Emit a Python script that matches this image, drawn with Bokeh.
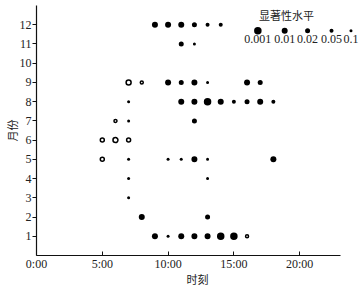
import math
from bokeh.plotting import figure
from bokeh.models import Range1d, FixedTicker, Label, ColumnDataSource
from bokeh.embed import file_html
from bokeh.resources import INLINE

# ---- data: (month, hour, significance level, open circle?) ----
months = [12, 12, 12, 12, 12, 12,
          11, 11,
          9, 9, 9, 9, 9, 9, 9, 9,
          8, 8, 8, 8, 8, 8, 8, 8, 8,
          7, 7, 7,
          6, 6, 6,
          5, 5, 5, 5, 5, 5, 5,
          4, 4,
          3,
          2, 2,
          1, 1, 1, 1, 1, 1, 1, 1]
hours = [9, 10, 11, 12, 13, 14,
         11, 12,
         7, 8, 10, 11, 12, 13, 16, 17,
         7, 11, 12, 13, 14, 15, 16, 17, 18,
         6, 7, 12,
         5, 6, 7,
         5, 7, 10, 11, 12, 13, 18,
         7, 13,
         7,
         8, 13,
         9, 10, 11, 12, 13, 14, 15, 16]
levels = [0.01, 0.01, 0.01, 0.02, 0.05, 0.05,
          0.02, 0.1,
          0.01, 0.05, 0.01, 0.02, 0.01, 0.1, 0.01, 0.02,
          0.1, 0.01, 0.01, 0.001, 0.01, 0.05, 0.02, 0.01, 0.05,
          0.05, 0.1, 0.02,
          0.02, 0.01, 0.02,
          0.02, 0.1, 0.1, 0.1, 0.01, 0.1, 0.01,
          0.1, 0.1,
          0.1,
          0.01, 0.02,
          0.01, 0.1, 0.01, 0.01, 0.01, 0.001, 0.001, 0.05]
hollow = [False] * 6 + [False] * 2 + \
         [True, True, False, False, False, False, False, False] + \
         [False] * 9 + \
         [True, False, False] + \
         [True, True, True] + \
         [True, False, False, False, False, False, False] + \
         [False] * 2 + [False] + [False] * 2 + \
         [False] * 7 + [True]

legend_levels = [0.001, 0.01, 0.02, 0.05, 0.1]
legend_labels = ["0.001", "0.01", "0.02", "0.05", "0.1"]
x_ticks = [0, 5, 10, 15, 20]
x_tick_labels = ["0:00", "5:00", "10:00", "15:00", "20:00"]
y_ticks = list(range(1, 13))

# ---- styles ----
size_map = {0.001: 7.5, 0.01: 6.0, 0.02: 5.0, 0.05: 4.0, 0.1: 3.0}
SERIF = "Liberation Serif"
CJK = "Noto Sans CJK SC"
TXT = "#222222"

filled = dict(x=[], y=[], s=[])
rings = dict(x=[], y=[], s=[])
for m, h, lv, o in zip(months, hours, levels, hollow):
    d = rings if o else filled
    d["x"].append(h)
    d["y"].append(m)
    d["s"].append(size_map[lv] - (1.0 if o else 0.0))

p = figure(width=360, height=290, output_backend="svg", toolbar_location=None,
           x_range=Range1d(0, 24.47), y_range=Range1d(0, 13.0),
           min_border_left=35, min_border_right=2, min_border_top=5,
           min_border_bottom=35)
p.outline_line_color = None
p.xgrid.visible = False
p.ygrid.visible = False
p.background_fill_color = "white"
p.border_fill_color = "white"

p.scatter("x", "y", size="s", source=ColumnDataSource(filled),
          fill_color="black", line_color=None)
p.scatter("x", "y", size="s", source=ColumnDataSource(rings),
          fill_color="white", line_color="black", line_width=1.5)

# axes
xa = p.xaxis[0]
xa.ticker = FixedTicker(ticks=x_ticks)
xa.major_label_overrides = {t: l for t, l in zip(x_ticks, x_tick_labels)}
xa.bounds = (0, 23.1)
xa.major_tick_in = 4
xa.major_tick_out = 0
xa.minor_tick_line_color = None
xa.major_label_standoff = 1
xa.axis_label = "时刻"
xa.axis_label_standoff = -3

ya = p.yaxis[0]
ya.ticker = FixedTicker(ticks=y_ticks)
ya.major_tick_in = 0
ya.major_tick_out = 4
ya.minor_tick_line_color = None
ya.major_label_standoff = 1
ya.axis_label = "月份"
ya.axis_label_standoff = -3

for ax in (xa, ya):
    ax.axis_line_color = "#111111"
    ax.axis_line_width = 1.2
    ax.major_tick_line_color = "#111111"
    ax.major_label_text_font = SERIF
    ax.major_label_text_font_size = "12px"
    ax.major_label_text_color = TXT
    ax.axis_label_text_font = CJK
    ax.axis_label_text_font_size = "11px"
    ax.axis_label_text_font_style = "normal"
    ax.axis_label_text_color = TXT

# legend
leg_x = [16.82, 18.86, 20.6, 22.42, 23.9]
leg_y_dot = 11.69
leg_y_txt = 11.27
p.scatter(leg_x, [leg_y_dot] * 5, size=[size_map[l] for l in legend_levels],
          fill_color="black", line_color=None)
for xx, lab in zip(leg_x, legend_labels):
    p.add_layout(Label(x=xx, y=leg_y_txt, text=lab, text_align="center",
                       text_baseline="middle", text_font=SERIF,
                       text_font_size="12px", text_color=TXT))
p.add_layout(Label(x=16.9, y=12.53, text="显著性水平", text_align="left",
                   text_baseline="middle", text_font=CJK,
                   text_font_size="11px", text_color=TXT))

open("out.html", "w").write(file_html(p, INLINE))
